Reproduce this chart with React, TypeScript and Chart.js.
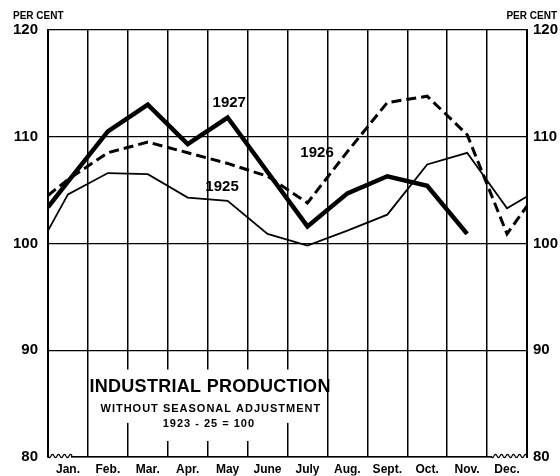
import React, { useEffect, useRef } from 'react';
import { Chart, registerables } from 'chart.js';

Chart.register(...registerables);

const FONT = '"Liberation Sans", Arial, sans-serif';

const months = ['Jan.', 'Feb.', 'Mar.', 'Apr.', 'May', 'June', 'July', 'Aug.', 'Sept.', 'Oct.', 'Nov.', 'Dec.'];

// Monthly values (mid-month), plus the values at the left / right edges of the chart
const v1925 = [104.6, 106.6, 106.5, 104.3, 104.0, 100.9, 99.8, 101.2, 102.7, 107.4, 108.5, 103.3];
const v1926 = [106.0, 108.5, 109.5, 108.5, 107.5, 106.3, 103.8, 108.6, 113.2, 113.8, 110.2, 100.9];
const v1927 = [105.8, 110.5, 113.0, 109.3, 111.8, 106.7, 101.6, 104.7, 106.3, 105.4, 100.9, null];
const edgeStart = { y1925: 101.2, y1926: 104.5, y1927: 103.4 };
const edgeEnd = { y1925: 104.4, y1926: 103.5, y1927: null as number | null };

const yMin = 80;
const yMax = 120;
const yStep = 10;

const seriesLabels = ['1925', '1926', '1927'];

function buildSeries(start: number | null, values: (number | null)[], end: number | null) {
  const pts: { x: number; y: number }[] = [];
  if (start !== null) pts.push({ x: 0, y: start });
  values.forEach((v, i) => {
    if (v !== null) pts.push({ x: i + 0.5, y: v });
  });
  if (end !== null) pts.push({ x: values.length, y: end });
  return pts;
}

// label anchors in data coordinates (x in month units, y in per cent)
const yearLabels = [
  { text: '1927', x: 4.54, y: 113.2 },
  { text: '1926', x: 6.74, y: 108.45 },
  { text: '1925', x: 4.36, y: 105.3 },
];

const titleLines = [
  { text: 'INDUSTRIAL PRODUCTION', x: 4.06, y: 86.6, size: 18, spacing: 0.3 },
  { text: 'WITHOUT SEASONAL ADJUSTMENT', x: 4.08, y: 84.5, size: 11, spacing: 1 },
  { text: '1923 - 25 = 100', x: 4.03, y: 83.1, size: 11, spacing: 1 },
];

const whiteBoxes = [
  { x0: 1.05, x1: 6.95, y0: 88.2, y1: 83.2 },
  { x0: 2.06, x1: 5.94, y0: 83.2, y1: 81.5 },
];

const decorPlugin = {
  id: 'decor',
  afterDraw(chart: any) {
    const { ctx, chartArea, scales } = chart;
    const xs = scales.x;
    const ys = scales.y;
    ctx.save();

    // wavy break marks on the base line
    const base = chartArea.bottom;
    const drawWave = (from: number, to: number) => {
      ctx.fillStyle = '#fff';
      ctx.fillRect(from + 1, base - 3, to - from - 2, 6);
      ctx.beginPath();
      ctx.strokeStyle = '#000';
      ctx.lineWidth = 1.2;
      for (let px = from; px <= to; px += 0.5) {
        const py = base - 1 + Math.sin(((px - from) / 6) * Math.PI * 2) * 1.6;
        if (px === from) ctx.moveTo(px, py);
        else ctx.lineTo(px, py);
      }
      ctx.stroke();
    };
    drawWave(chartArea.left, chartArea.left + 24);
    drawWave(chartArea.right - 36, chartArea.right);

    // white boxes behind the title
    ctx.fillStyle = '#fff';
    whiteBoxes.forEach((b) => {
      const x0 = xs.getPixelForValue(b.x0);
      const x1 = xs.getPixelForValue(b.x1);
      const y0 = ys.getPixelForValue(b.y0);
      const y1 = ys.getPixelForValue(b.y1);
      ctx.fillRect(x0, y0, x1 - x0, y1 - y0);
    });

    ctx.fillStyle = '#000';
    ctx.textAlign = 'center';
    ctx.textBaseline = 'middle';

    titleLines.forEach((t) => {
      ctx.font = `bold ${t.size}px ${FONT}`;
      (ctx as any).letterSpacing = `${t.spacing}px`;
      ctx.fillText(t.text, xs.getPixelForValue(t.x), ys.getPixelForValue(t.y));
    });
    (ctx as any).letterSpacing = '0px';

    ctx.font = `bold 15px ${FONT}`;
    yearLabels.forEach((l) => {
      ctx.fillText(l.text, xs.getPixelForValue(l.x), ys.getPixelForValue(l.y));
    });

    // "PER CENT" headers
    ctx.font = `bold 10px ${FONT}`;
    ctx.textBaseline = 'alphabetic';
    ctx.textAlign = 'left';
    ctx.fillText('PER CENT', 13, 19);
    ctx.textAlign = 'right';
    ctx.fillText('PER CENT', 557, 19);

    ctx.restore();
  },
};

export default function App() {
  const ref = useRef<HTMLCanvasElement | null>(null);

  useEffect(() => {
    document.body.style.margin = '0';
    const canvas = ref.current;
    if (!canvas) return;

    const tickFont = { family: FONT, size: 15, weight: 'bold' as const };

    const chart = new Chart(canvas, {
      type: 'line',
      data: {
        datasets: [
          {
            label: seriesLabels[0],
            data: buildSeries(edgeStart.y1925, v1925, edgeEnd.y1925),
            borderColor: '#000',
            borderWidth: 1.8,
            pointRadius: 0,
            tension: 0,
            fill: false,
          },
          {
            label: seriesLabels[1],
            data: buildSeries(edgeStart.y1926, v1926, edgeEnd.y1926),
            borderColor: '#000',
            borderWidth: 3,
            borderDash: [10, 5],
            pointRadius: 0,
            tension: 0,
            fill: false,
          },
          {
            label: seriesLabels[2],
            data: buildSeries(edgeStart.y1927, v1927, edgeEnd.y1927),
            borderColor: '#000',
            borderWidth: 4.5,
            pointRadius: 0,
            tension: 0,
            fill: false,
            borderJoinStyle: 'miter',
          },
        ],
      },
      options: {
        animation: false,
        responsive: false,
        devicePixelRatio: 1,
        layout: { padding: { top: 30, left: 0, right: 0, bottom: 0 } },
        plugins: {
          legend: { display: false },
          tooltip: { enabled: false },
          title: { display: false },
        },
        scales: {
          x: {
            type: 'linear',
            position: 'bottom',
            min: 0,
            max: months.length,
            ticks: { stepSize: 1, display: false },
            grid: { color: '#000', lineWidth: 1.5, drawTicks: false },
            border: { display: true, color: '#000', width: 1.5 },
            afterFit: (s: any) => {
              s.height = 0;
            },
          },
          x2: {
            type: 'category',
            position: 'bottom',
            labels: months,
            offset: true,
            grid: { display: false, drawTicks: false },
            border: { display: false },
            ticks: {
              color: '#000',
              font: { family: FONT, size: 12, weight: 'bold' },
              padding: 5,
              maxRotation: 0,
              autoSkip: false,
            },
            afterFit: (s: any) => {
              s.height = 18.5;
            },
          },
          y: {
            position: 'left',
            min: yMin,
            max: yMax,
            ticks: { stepSize: yStep, color: '#000', font: tickFont, padding: 10 },
            grid: { color: '#000', lineWidth: 1.2, drawTicks: false },
            border: { display: true, color: '#000', width: 2 },
            afterFit: (s: any) => {
              s.width = 48;
            },
          },
          yRight: {
            position: 'right',
            min: yMin,
            max: yMax,
            ticks: { stepSize: yStep, color: '#000', font: tickFont, padding: 6 },
            grid: { drawOnChartArea: false, drawTicks: false },
            border: { display: true, color: '#000', width: 2 },
            afterFit: (s: any) => {
              s.width = 33;
            },
          },
        },
      },
      plugins: [decorPlugin],
    });

    return () => chart.destroy();
  }, []);

  return <canvas ref={ref} width={560} height={476} style={{ display: 'block' }} />;
}
